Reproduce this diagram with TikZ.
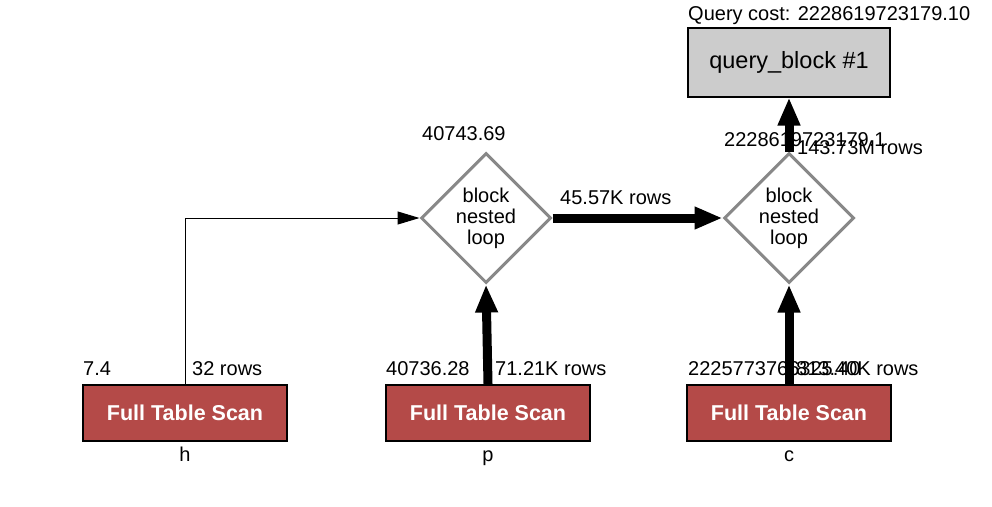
\documentclass[tikz,border=0pt]{standalone}
\usepackage{fontspec}
\setmainfont{Liberation Sans}
\usetikzlibrary{shapes.geometric,arrows.meta,positioning}
\definecolor{scanred}{RGB}{180,74,72}
\definecolor{blockgray}{RGB}{204,204,204}
\definecolor{loopgray}{RGB}{136,136,136}
\newcommand\rows[1]{#1 rows}

\begin{document}
\begin{tikzpicture}[x=1pt, y=-1pt,
  every node/.style = {font=\fontsize{20}{21}\selectfont, inner sep=0pt},
  lbl/.style = {anchor=base west},
  scan/.style = {rectangle, draw=black, line width=2pt, fill=scanred,
    text=white, minimum width=204pt, minimum height=56pt,
    font=\fontsize{21.5}{24}\selectfont\bfseries},
  qblock/.style = {rectangle, draw=black, line width=2pt, fill=blockgray,
    minimum width=202pt, minimum height=69pt,
    font=\fontsize{23.5}{26}\selectfont},
  nlj/.style = {diamond, draw=loopgray, line width=3pt, fill=white,
    minimum size=130pt, align=center},
  thin flow/.style = {draw, line width=1pt,
    -{Triangle[length=22pt, width=13pt]}},
  thick flow/.style = {draw, line width=9pt,
    -{Triangle[length=28pt, width=21pt]}}]
  \useasboundingbox (0,0) rectangle (992,506);
  % operators
  \node[qblock] (qb) at (789,62) {query\_block \#1};
  \node[nlj] (d1) at (486,218) {block\\nested\\loop};
  \node[nlj] (d2) at (789,218) {block\\nested\\loop};
  \node[scan] (h) at (185,413) {Full Table Scan};
  \node[scan] (p) at (488,413) {Full Table Scan};
  \node[scan] (c) at (789,413) {Full Table Scan};
  % table names
  \node[anchor=base] (hname) at (185,461) {h};
  \node[anchor=base] (pname) at (488,461) {p};
  \node[anchor=base] (cname) at (789,461) {c};
  % costs and row counts
  \node[lbl] (qcost) at (688,20) {Query cost: 2228619723179.10};
  \node[lbl] (d1cost) at (422,140) {40743.69};
  \node[lbl] (d2cost) at (724,146) {2228619723179.1};
  \node[lbl] (d2rows) at (797,154) {\rows{143.73M}};
  \node[lbl] (d1rows) at (560,204) {\rows{45.57K}};
  \node[lbl] (hcost) at (83,375) {7.4};
  \node[lbl] (hrows) at (192,375) {\rows{32}};
  \node[lbl] (pcost) at (386,375) {40736.28};
  \node[lbl] (prows) at (495,375) {\rows{71.21K}};
  \node[lbl] (ccost) at (688,375) {2225773766325.40};
  \node[lbl] (crows) at (796,375) {\rows{813.40K}};
  % flows
  \draw[thin flow] (h.north) |- (d1.west);
  \draw[thick flow] (p.north) -- (d1.south);
  \draw[thick flow] (d1.east) -- (d2.west);
  \draw[thick flow] (c.north) -- (d2.south);
  \draw[thick flow] (d2.north) -- (qb.south);
\end{tikzpicture}
\end{document}
